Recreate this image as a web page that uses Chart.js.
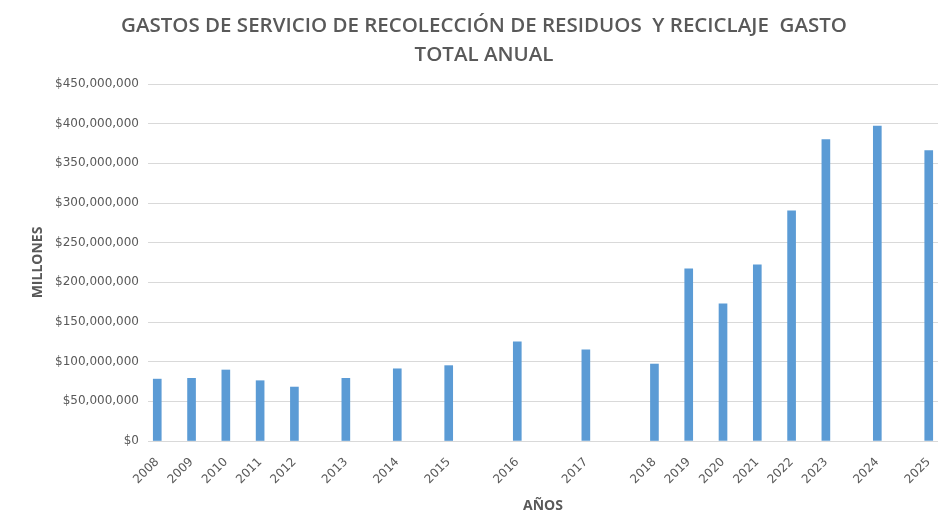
<!DOCTYPE html>
<html lang="es">
<head>
  <meta charset="UTF-8" />
  <title>Gastos recolección de residuos y reciclaje</title>
  <script src="https://cdn.jsdelivr.net/npm/chart.js"></script>
  <style>
    html, body { margin: 0; padding: 0; background: #fff; }
    #wrap { width: 941px; height: 524px; position: relative; }
  </style>
</head>
<body>

  <div id="wrap"><canvas id="gastosChart"></canvas></div>

  <script>
    // years and where each one sits on the (uneven) x axis, in slot units
    const years = [2008, 2009, 2010, 2011, 2012, 2013, 2014, 2015, 2016, 2017, 2018, 2019, 2020, 2021, 2022, 2023, 2024, 2025];
    const slots = [0, 1, 2, 3, 4, 5.5, 7, 8.5, 10.5, 12.5, 14.5, 15.5, 16.5, 17.5, 18.5, 19.5, 21, 22.5];
    // gasto total anual (pesos)
    const gastos = [78e6, 79e6, 89.5e6, 76e6, 68e6, 79e6, 91e6, 95e6, 125e6, 115e6, 97e6, 217e6, 173e6, 222e6, 290e6, 380e6, 397e6, 366e6];

    const grey = "#595959";
    const padLeft = 30, padBottom = 10;

    new Chart(document.getElementById("gastosChart"), {
      type: "bar",
      data: {
        datasets: [{
          data: years.map((y, i) => ({ x: slots[i], y: gastos[i] })),
          backgroundColor: "#5b9bd5",
          barThickness: 8
        }]
      },
      options: {
        responsive: true,
        maintainAspectRatio: false,
        animation: false,
        layout: { padding: { left: padLeft, right: 3, top: 0, bottom: padBottom } },
        plugins: {
          legend: { display: false },
          tooltip: { enabled: false },
          title: {
            display: true,
            text: ["GASTOS DE SERVICIO DE RECOLECCIÓN DE RESIDUOS  Y RECICLAJE  GASTO", "TOTAL ANUAL"],
            color: grey,
            font: { family: "Open Sans", size: 20.5, weight: "600", lineHeight: "29px" },
            padding: { top: 12, bottom: 14 }
          }
        },
        scales: {
          x: {
            type: "linear",
            offset: false,
            min: -0.27,
            max: 22.77,
            grid: { display: false, offset: false },
            border: { display: false },
            afterBuildTicks: scale => { scale.ticks = slots.map(v => ({ value: v })); },
            afterFit: scale => {
              scale.height = 524 - 441 - padBottom;
              scale.paddingRight = 0;
            },
            ticks: {
              autoSkip: false,
              minRotation: 45,
              maxRotation: 45,
              padding: 6,
              color: grey,
              font: { family: "DejaVu Sans", size: 12 },
              callback: (val, i) => years[i]
            },
            title: {
              display: true,
              text: "AÑOS",
              color: grey,
              font: { family: "Open Sans", size: 14, weight: "bold" },
              padding: 0
            }
          },
          y: {
            min: 0,
            max: 450e6,
            grid: { color: "#d9d9d9", drawTicks: false },
            border: { display: false },
            afterFit: scale => { scale.width = 148 - padLeft; },
            ticks: {
              stepSize: 50e6,
              padding: 9,
              color: grey,
              font: { family: "DejaVu Sans", size: 12 },
              callback: v => "$" + v.toLocaleString("en-US")
            },
            title: {
              display: true,
              text: "MILLONES",
              color: grey,
              font: { family: "Open Sans", size: 14, weight: "bold" },
              padding: 0
            }
          }
        }
      }
    });
  </script>
</body>
</html>
